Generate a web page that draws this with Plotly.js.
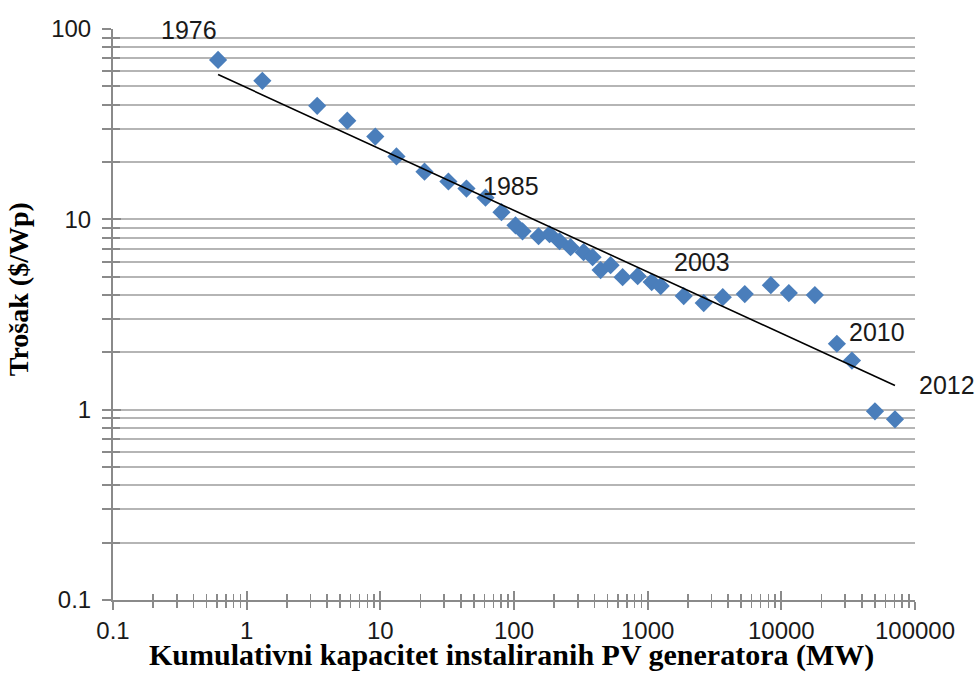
<!DOCTYPE html>
<html>
<head>
<meta charset="utf-8">
<script src="https://cdn.plot.ly/plotly-3.0.1.min.js"></script>
<style>
  html, body { margin: 0; padding: 0; background: #ffffff; }
  #chart { width: 978px; height: 675px; }
</style>
</head>
<body>
<div id="chart"></div>
<script>
// ---- Data ----
const capacityMW = [0.611, 1.31, 3.37, 5.66, 9.17, 13.2, 21.4, 32.3, 44.1, 61.2,
  80.6, 102.6, 115.8, 152.6, 184.5, 219.2, 265, 331.6, 387.3, 444.6,
  528.2, 649.5, 841.9, 1071.5, 1251.4, 1860.9, 2627, 3646, 5329, 8344,
  11380, 17815, 26040, 33750, 50170, 70830];
const costPerWp = [68.8, 53.4, 39.5, 33.0, 27.2, 21.4, 17.8, 15.8, 14.5, 13.0,
  10.9, 9.30, 8.65, 8.15, 8.35, 7.67, 7.14, 6.72, 6.32, 5.41,
  5.74, 4.97, 5.03, 4.68, 4.46, 3.95, 3.63, 3.90, 4.05, 4.51,
  4.10, 4.00, 2.22, 1.81, 0.98, 0.89];
const yearLabels = ['1976', '1985', '2003', '2010', '2012'];
const yearLabelPoint = [0, 9, 26, 32, 35];

const xTickVals = [0.1, 1, 10, 100, 1000, 10000, 100000];
const xTickText = ['0.1', '1', '10', '100', '1000', '10000', '100000'];
const yTickVals = [0.1, 1, 10, 100];
const yTickText = ['0.1', '1', '10', '100'];

const xTitle = 'Kumulativni kapacitet instaliranih PV generatora (MW)';
const yTitle = 'Trošak ($/Wp)';

// ---- Power-law trendline (least squares in log-log space, like Excel) ----
const lx = capacityMW.map(Math.log10), ly = costPerWp.map(Math.log10);
const n = lx.length;
const mx = lx.reduce((a, b) => a + b, 0) / n, my = ly.reduce((a, b) => a + b, 0) / n;
let sxy = 0, sxx = 0;
for (let i = 0; i < n; i++) { sxy += (lx[i] - mx) * (ly[i] - my); sxx += (lx[i] - mx) ** 2; }
const slope = sxy / sxx, icpt = my - slope * mx;
const trendX = [Math.min(...capacityMW), Math.max(...capacityMW)];
const trendY = trendX.map(x => Math.pow(10, icpt + slope * Math.log10(x)));

// ---- minor tick positions (2..9 of every decade) ----
function minorVals(lo, hi) {
  const out = [];
  for (let e = lo; e < hi; e++) for (let k = 2; k <= 9; k++) out.push(k * Math.pow(10, e));
  return out;
}
const xMinor = minorVals(-1, 5);
const yMinor = minorVals(-1, 2);

// ---- styles ----
const axisColor = '#8a8a8a';
const gridColor = '#b5b5b5';
const labelShift = [[-29, 30], [25, 12], [-2, 41], [40, 12], [52, 34]];
const tickFont = { family: 'Liberation Sans, Arial, sans-serif', size: 24, color: '#1a1a1a' };
const titleFont = { family: 'Liberation Serif, Times New Roman, serif', size: 30, color: '#000000' };

const traces = [
  {
    x: capacityMW, y: costPerWp, type: 'scatter', mode: 'markers',
    marker: { symbol: 'diamond', size: 14, color: '#4a7ebb', line: { width: 0 } },
    xaxis: 'x', yaxis: 'y', hoverinfo: 'x+y'
  },
  {
    x: trendX, y: trendY, type: 'scatter', mode: 'lines',
    line: { color: '#000000', width: 1.6 },
    xaxis: 'x2', yaxis: 'y2', hoverinfo: 'skip'
  }
];

const annotations = yearLabels.map((t, i) => ({
  text: t, x: Math.log10(capacityMW[yearLabelPoint[i]]), y: Math.log10(costPerWp[yearLabelPoint[i]]),
  xref: 'x', yref: 'y', showarrow: false,
  xshift: labelShift[i][0], yshift: labelShift[i][1],
  font: { family: 'Liberation Sans, Arial, sans-serif', size: 25, color: '#1a1a1a' }
}));
annotations.push({
  text: '<b>' + xTitle + '</b>', xref: 'paper', yref: 'paper', x: 0.497, y: -0.097,
  xanchor: 'center', yanchor: 'middle', showarrow: false, font: titleFont
});
annotations.push({
  text: '<b>' + yTitle + '</b>', xref: 'paper', yref: 'paper', x: -0.118, y: 0.545,
  xanchor: 'center', yanchor: 'middle', textangle: -90, showarrow: false,
  font: Object.assign({}, titleFont, { size: 28 })
});

const layout = {
  width: 978, height: 675,
  margin: { l: 113, r: 63, t: 29, b: 75 },
  paper_bgcolor: '#ffffff', plot_bgcolor: '#ffffff',
  showlegend: false,
  xaxis: {
    type: 'log', range: [-1, 5], showgrid: false, zeroline: false,
    showline: true, linecolor: axisColor, linewidth: 2,
    tickmode: 'array', tickvals: xTickVals, ticktext: xTickText,
    ticks: 'outside', ticklen: 8, tickwidth: 2, tickcolor: axisColor,
    ticklabelstandoff: 0,
    tickfont: tickFont,
    minor: { tickvals: xMinor, ticks: 'outside', ticklen: 6, tickwidth: 1.5, tickcolor: axisColor, showgrid: false }
  },
  yaxis: {
    type: 'log', range: [-1, 2], zeroline: false,
    showgrid: true, gridcolor: gridColor, gridwidth: 2,
    showline: true, linecolor: axisColor, linewidth: 2,
    tickmode: 'array', tickvals: yTickVals, ticktext: yTickText,
    ticks: 'outside', ticklen: 9, tickwidth: 2, tickcolor: axisColor,
    ticklabelstandoff: 6,
    tickfont: tickFont,
    minor: { tickvals: yMinor, ticks: 'outside', ticklen: 9, tickwidth: 2, tickcolor: axisColor, showgrid: true, gridcolor: gridColor, gridwidth: 2 }
  },
  xaxis2: {
    type: 'log', range: [-1, 5], overlaying: 'x', anchor: 'y2', side: 'bottom',
    showgrid: false, zeroline: false, showline: false, showticklabels: false,
    tickmode: 'array', tickvals: xTickVals,
    ticks: 'inside', ticklen: 9, tickwidth: 2, tickcolor: axisColor,
    minor: { tickvals: xMinor, ticks: 'inside', ticklen: 6, tickwidth: 1.5, tickcolor: axisColor, showgrid: false }
  },
  yaxis2: {
    type: 'log', range: [-1, 2], overlaying: 'y', anchor: 'x2', side: 'left',
    showgrid: false, zeroline: false, showline: false, showticklabels: false,
    tickmode: 'array', tickvals: yTickVals,
    ticks: 'inside', ticklen: 8, tickwidth: 2, tickcolor: axisColor,
    minor: { tickvals: yMinor, ticks: 'inside', ticklen: 7, tickwidth: 2, tickcolor: axisColor, showgrid: false }
  },
  annotations: annotations
};

Plotly.newPlot('chart', traces, layout, { staticPlot: true, displayModeBar: false });
</script>
</body>
</html>
